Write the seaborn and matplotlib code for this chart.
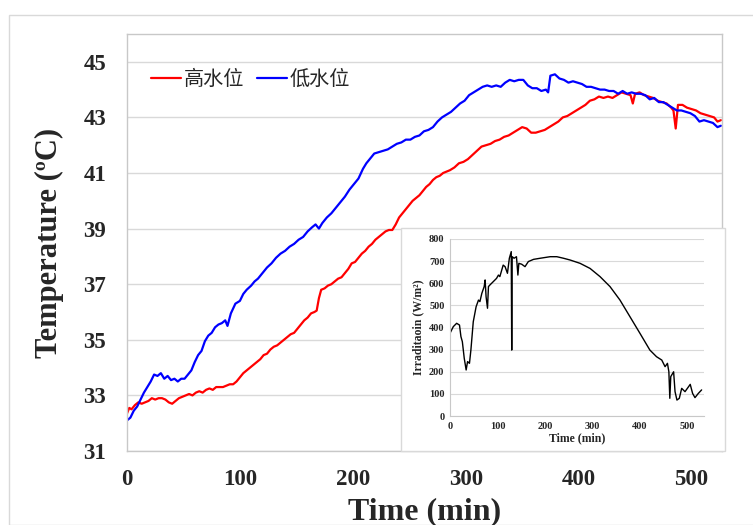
import matplotlib
matplotlib.use("Agg")
import matplotlib.pyplot as plt
from matplotlib.patches import Rectangle
import seaborn as sns
import pandas as pd

# Water temperature, low water level (低水位)
low_time = [0, 3, 6, 9, 12, 15, 18, 21, 24, 27, 30, 33, 36, 39, 42, 45, 48, 51, 54, 57,
            60, 63, 66, 69, 72, 75, 78, 81, 84, 87, 89, 92, 96, 100, 103, 106, 110, 113, 116, 120,
            124, 128, 132, 136, 140, 144, 148, 152, 156, 160, 164, 167, 170, 173, 177, 181, 185, 189, 193, 197,
            201, 205, 209, 212, 216, 219, 223, 227, 231, 235, 239, 243, 247, 251, 255, 259, 263, 267, 271, 275,
            279, 283, 287, 291, 295, 299, 303, 307, 311, 315, 319, 323, 327, 331, 335, 339, 343, 347, 351, 355,
            359, 363, 367, 371, 373, 375, 379, 383, 387, 391, 395, 399, 403, 407, 411, 415, 419, 423, 427, 431,
            435, 439, 443, 447, 451, 455, 459, 463, 467, 471, 475, 479, 483, 487, 491, 495, 499, 503, 507, 511,
            515, 519, 523, 526]
low_temp = [32.1, 32.2, 32.45, 32.6, 32.85, 33.1, 33.3, 33.5, 33.75, 33.7, 33.8, 33.6, 33.7, 33.55, 33.6, 33.5, 33.6, 33.6, 33.75, 33.9,
            34.2, 34.45, 34.6, 34.95, 35.15, 35.25, 35.45, 35.55, 35.6, 35.7, 35.5, 35.95, 36.3, 36.4, 36.65, 36.8, 36.95, 37.1, 37.2, 37.4,
            37.6, 37.75, 37.95, 38.1, 38.2, 38.35, 38.45, 38.6, 38.7, 38.9, 39.05, 39.15, 39.0, 39.2, 39.4, 39.55, 39.75, 39.95, 40.15, 40.4,
            40.6, 40.8, 41.15, 41.35, 41.55, 41.7, 41.75, 41.8, 41.85, 41.95, 42.05, 42.1, 42.2, 42.2, 42.3, 42.35, 42.5, 42.55, 42.65, 42.85,
            43.0, 43.1, 43.2, 43.35, 43.5, 43.6, 43.8, 43.9, 44.0, 44.1, 44.15, 44.1, 44.15, 44.1, 44.25, 44.35, 44.3, 44.35, 44.35, 44.15,
            44.05, 44.05, 43.95, 44.0, 43.9, 44.5, 44.55, 44.4, 44.35, 44.25, 44.3, 44.25, 44.2, 44.1, 44.1, 44.05, 44.0, 44.0, 43.95, 43.95,
            43.85, 43.95, 43.85, 43.9, 43.85, 43.85, 43.8, 43.65, 43.7, 43.55, 43.55, 43.45, 43.35, 43.25, 43.25, 43.2, 43.15, 43.05, 42.85, 42.9,
            42.85, 42.8, 42.65, 42.7]

# Water temperature, high water level (高水位)
high_time = [0, 2, 4, 7, 10, 13, 16, 19, 22, 25, 28, 31, 34, 37, 40, 43, 46, 49, 52, 55,
             58, 61, 64, 67, 70, 73, 76, 79, 82, 85, 88, 91, 94, 97, 100, 103, 106, 109, 112, 115,
             118, 121, 124, 127, 130, 133, 136, 139, 142, 145, 148, 151, 154, 157, 160, 163, 166, 168, 170, 172,
             175, 178, 181, 184, 187, 190, 193, 196, 199, 202, 205, 208, 211, 214, 217, 220, 223, 226, 229, 232,
             235, 238, 241, 244, 247, 250, 253, 256, 259, 262, 265, 268, 271, 274, 277, 280, 283, 286, 290, 294,
             298, 302, 306, 310, 314, 318, 322, 326, 330, 334, 338, 342, 346, 350, 354, 358, 362, 366, 370, 374,
             378, 382, 386, 390, 394, 398, 402, 406, 410, 414, 418, 422, 426, 430, 434, 438, 442, 446, 448, 450,
             454, 458, 462, 466, 470, 474, 478, 482, 484, 486, 488, 492, 496, 500, 504, 508, 512, 516, 520, 523,
             526]
high_temp = [32.35, 32.55, 32.5, 32.65, 32.75, 32.7, 32.75, 32.8, 32.9, 32.85, 32.9, 32.9, 32.85, 32.75, 32.7, 32.8, 32.9, 32.95, 33.0, 33.05,
             33.0, 33.1, 33.15, 33.1, 33.2, 33.25, 33.2, 33.3, 33.3, 33.3, 33.35, 33.4, 33.4, 33.5, 33.65, 33.8, 33.9, 34.0, 34.1, 34.2,
             34.3, 34.45, 34.5, 34.65, 34.75, 34.8, 34.9, 35.0, 35.1, 35.2, 35.25, 35.4, 35.55, 35.7, 35.8, 35.95, 36.0, 36.05, 36.5, 36.8,
             36.85, 36.95, 37.0, 37.1, 37.2, 37.25, 37.4, 37.55, 37.75, 37.8, 37.95, 38.1, 38.2, 38.35, 38.45, 38.6, 38.7, 38.8, 38.9, 38.95,
             38.95, 39.15, 39.4, 39.55, 39.7, 39.85, 40.0, 40.1, 40.2, 40.35, 40.5, 40.6, 40.75, 40.85, 40.9, 41.0, 41.05, 41.1, 41.2, 41.35,
             41.4, 41.5, 41.65, 41.8, 41.95, 42.0, 42.05, 42.15, 42.2, 42.3, 42.35, 42.45, 42.55, 42.65, 42.6, 42.45, 42.45, 42.5, 42.55, 42.65,
             42.75, 42.85, 43.0, 43.05, 43.15, 43.25, 43.35, 43.45, 43.6, 43.65, 43.75, 43.7, 43.75, 43.7, 43.8, 43.9, 43.85, 43.8, 43.5, 43.85,
             43.9, 43.8, 43.75, 43.7, 43.6, 43.55, 43.5, 43.35, 43.25, 42.6, 43.45, 43.45, 43.35, 43.3, 43.25, 43.15, 43.1, 43.05, 43.0, 42.85,
             42.9]

# Solar irradiation
irr_time = [0, 7, 14, 20, 23, 26, 30, 34, 37, 41, 44, 49, 55, 60, 63, 67, 72, 74, 76, 79,
            81, 84, 91, 98, 102, 105, 112, 116, 121, 125, 129, 130, 131, 135, 140, 143, 145, 151, 158, 165,
            176, 190, 211, 225, 239, 253, 274, 295, 316, 337, 358, 379, 400, 421, 435, 446, 453, 458, 461, 463,
            465, 471, 474, 478, 483, 488, 495, 500, 506, 511, 516, 523, 530]
irr_value = [374, 404, 419, 411, 359, 336, 261, 208, 246, 238, 298, 426, 494, 524, 517, 554, 585, 615, 539, 487,
             585, 592, 607, 622, 637, 630, 682, 675, 645, 713, 743, 298, 720, 713, 720, 637, 690, 686, 675, 698,
             708, 713, 720, 720, 713, 705, 690, 667, 630, 585, 524, 449, 374, 298, 268, 253, 223, 238, 200, 80,
             178, 200, 110, 72, 80, 125, 110, 125, 143, 102, 83, 102, 118]

temp_ticks = [31, 33, 35, 37, 39, 41, 43, 45]
time_ticks = [0, 100, 200, 300, 400, 500]
irr_ticks = [0, 100, 200, 300, 400, 500, 600, 700, 800]

sns.set_style("white")
plt.rcParams["font.family"] = ["Liberation Serif", "DejaVu Serif"]
plt.rcParams["font.weight"] = "bold"

W, H = 753, 525
fig = plt.figure(figsize=(W / 100, H / 100), dpi=100)

GRID = "#d9d9d9"
SPINE = "#c8c8c8"

# chart area border
fig.patches.append(Rectangle((9 / W, 0), 1, 1 - 15 / H, transform=fig.transFigure,
                             fill=False, edgecolor=GRID, linewidth=1.0, zorder=0))

ax = fig.add_axes([127 / W, 1 - 451 / H, (722 - 127) / W, (451 - 34) / H])
ax.set_zorder(1)

df_high = pd.DataFrame({"t": high_time, "T": high_temp})
df_low = pd.DataFrame({"t": low_time, "T": low_temp})
sns.lineplot(data=df_high, x="t", y="T", ax=ax, color="#ff0000", linewidth=1.6,
             label="高水位", estimator=None, sort=False)
sns.lineplot(data=df_low, x="t", y="T", ax=ax, color="#0000ff", linewidth=1.6,
             label="低水位", estimator=None, sort=False)

ax.set_xlim(0, 527)
ax.set_ylim(31, 46)
ax.set_yticks(temp_ticks)
ax.set_xticks(time_ticks)
ax.grid(axis="y", color=GRID, linewidth=1.0)
ax.grid(axis="x", visible=False)
for s in ax.spines.values():
    s.set_color(SPINE)
    s.set_linewidth(1.0)
ax.tick_params(axis="y", length=0, pad=15, labelsize=16.5)
ax.tick_params(axis="x", direction="in", length=4, color=SPINE, pad=13, labelsize=16.5)
for lab in ax.get_xticklabels() + ax.get_yticklabels():
    lab.set_fontweight("bold")
ax.set_xlabel("Time (min)", fontsize=23, fontweight="bold", labelpad=5)
ax.set_ylabel("Temperature (ºC)", fontsize=22, fontweight="bold", labelpad=14)

leg = ax.legend(loc="upper left", bbox_to_anchor=(0.01, 0.96), ncol=2, frameon=False,
                handlelength=1.5, handletextpad=0.15, columnspacing=0.6,
                prop={"family": ["Noto Sans CJK SC"], "size": 14.5, "weight": "normal"})

# inset background box
fig.patches.append(Rectangle((401 / W, 1 - 451 / H), (725 - 401) / W, (451 - 228) / H,
                             transform=fig.transFigure, facecolor="white",
                             edgecolor=GRID, linewidth=1.0, zorder=2))

ins = fig.add_axes([450 / W, 1 - 416 / H, (704 - 450) / W, (416 - 239) / H])
ins.set_zorder(3)
df_irr = pd.DataFrame({"t": irr_time, "I": irr_value})
sns.lineplot(data=df_irr, x="t", y="I", ax=ins, color="black", linewidth=1.0,
             estimator=None, sort=False)
ins.set_xlim(0, 535)
ins.set_ylim(0, 800)
ins.set_yticks(irr_ticks)
ins.set_xticks(time_ticks)
ins.grid(axis="y", color=GRID, linewidth=0.8)
ins.grid(axis="x", visible=False)
ins.spines["top"].set_visible(False)
ins.spines["right"].set_visible(False)
ins.spines["left"].set_color(SPINE)
ins.spines["bottom"].set_color(SPINE)
ins.tick_params(axis="both", length=0, pad=4, labelsize=7.5)
for lab in ins.get_xticklabels() + ins.get_yticklabels():
    lab.set_fontweight("bold")
ins.set_xlabel("Time (min)", fontsize=8.5, fontweight="bold", labelpad=1)
ins.set_ylabel("Irraditaoin (W/m²)", fontsize=8.5, fontweight="bold", labelpad=3)

fig.savefig("out.png", dpi=100)
